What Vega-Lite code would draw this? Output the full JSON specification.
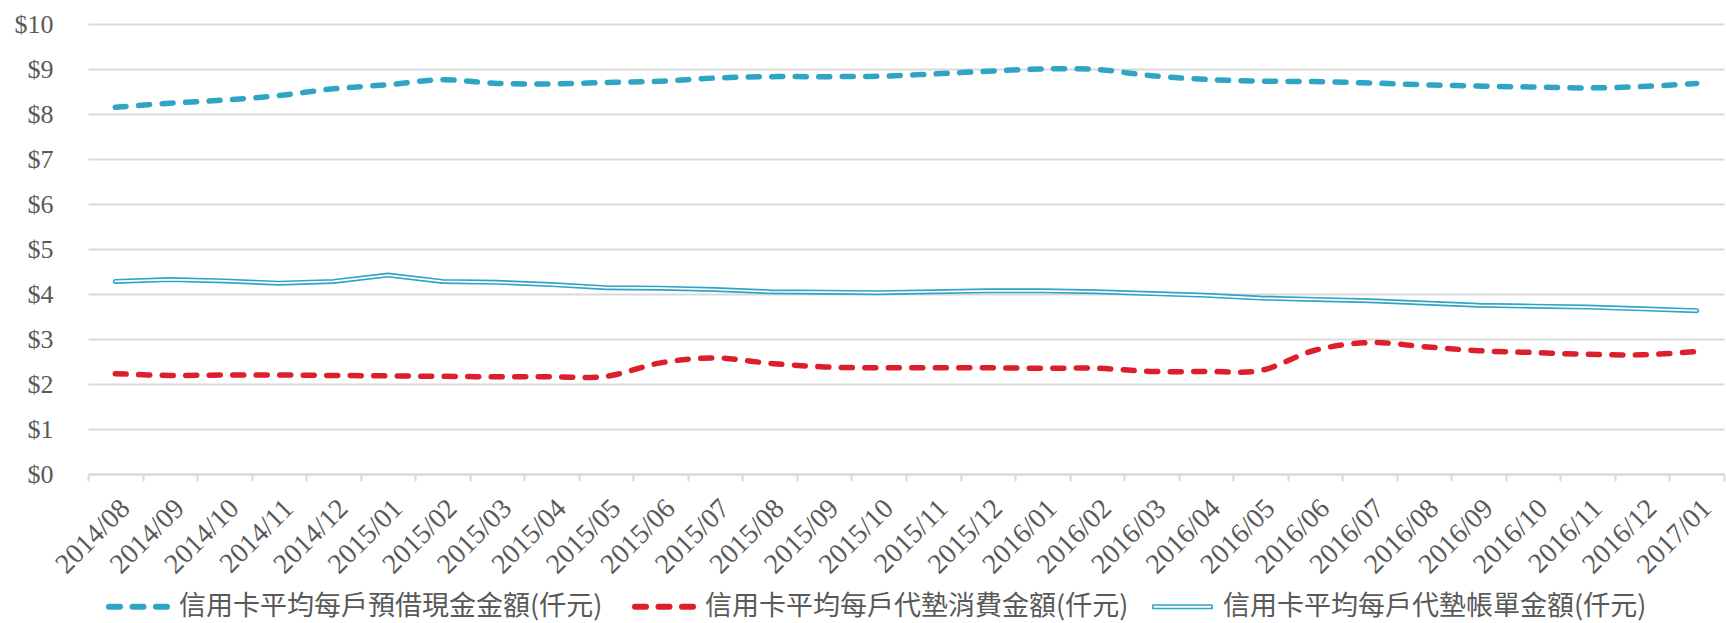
{
  "$schema": "https://vega.github.io/schema/vega-lite/v6.json",
  "width": 1636,
  "height": 450,
  "autosize": {"type": "none"},
  "padding": {"left": 88, "top": 24, "right": 2, "bottom": 149},
  "background": "white",
  "config": {"view": {"stroke": null}, "font": "Liberation Serif"},
  "data": {"values": [
    {"m": "2014/08", "信用卡平均每戶預借現金金額(仟元)": 8.15, "信用卡平均每戶代墊消費金額(仟元)": 2.23, "信用卡平均每戶代墊帳單金額(仟元)": 4.28},
    {"m": "2014/09", "信用卡平均每戶預借現金金額(仟元)": 8.24, "信用卡平均每戶代墊消費金額(仟元)": 2.19, "信用卡平均每戶代墊帳單金額(仟元)": 4.32},
    {"m": "2014/10", "信用卡平均每戶預借現金金額(仟元)": 8.31, "信用卡平均每戶代墊消費金額(仟元)": 2.2, "信用卡平均每戶代墊帳單金額(仟元)": 4.29},
    {"m": "2014/11", "信用卡平均每戶預借現金金額(仟元)": 8.41, "信用卡平均每戶代墊消費金額(仟元)": 2.2, "信用卡平均每戶代墊帳單金額(仟元)": 4.24},
    {"m": "2014/12", "信用卡平均每戶預借現金金額(仟元)": 8.56, "信用卡平均每戶代墊消費金額(仟元)": 2.19, "信用卡平均每戶代墊帳單金額(仟元)": 4.28},
    {"m": "2015/01", "信用卡平均每戶預借現金金額(仟元)": 8.65, "信用卡平均每戶代墊消費金額(仟元)": 2.18, "信用卡平均每戶代墊帳單金額(仟元)": 4.42},
    {"m": "2015/02", "信用卡平均每戶預借現金金額(仟元)": 8.76, "信用卡平均每戶代墊消費金額(仟元)": 2.17, "信用卡平均每戶代墊帳單金額(仟元)": 4.28},
    {"m": "2015/03", "信用卡平均每戶預借現金金額(仟元)": 8.68, "信用卡平均每戶代墊消費金額(仟元)": 2.16, "信用卡平均每戶代墊帳單金額(仟元)": 4.26},
    {"m": "2015/04", "信用卡平均每戶預借現金金額(仟元)": 8.67, "信用卡平均每戶代墊消費金額(仟元)": 2.16, "信用卡平均每戶代墊帳單金額(仟元)": 4.21},
    {"m": "2015/05", "信用卡平均每戶預借現金金額(仟元)": 8.7, "信用卡平均每戶代墊消費金額(仟元)": 2.17, "信用卡平均每戶代墊帳單金額(仟元)": 4.14},
    {"m": "2015/06", "信用卡平均每戶預借現金金額(仟元)": 8.73, "信用卡平均每戶代墊消費金額(仟元)": 2.47, "信用卡平均每戶代墊帳單金額(仟元)": 4.13},
    {"m": "2015/07", "信用卡平均每戶預借現金金額(仟元)": 8.8, "信用卡平均每戶代墊消費金額(仟元)": 2.58, "信用卡平均每戶代墊帳單金額(仟元)": 4.1},
    {"m": "2015/08", "信用卡平均每戶預借現金金額(仟元)": 8.83, "信用卡平均每戶代墊消費金額(仟元)": 2.46, "信用卡平均每戶代墊帳單金額(仟元)": 4.05},
    {"m": "2015/09", "信用卡平均每戶預借現金金額(仟元)": 8.83, "信用卡平均每戶代墊消費金額(仟元)": 2.38, "信用卡平均每戶代墊帳單金額(仟元)": 4.04},
    {"m": "2015/10", "信用卡平均每戶預借現金金額(仟元)": 8.84, "信用卡平均每戶代墊消費金額(仟元)": 2.36, "信用卡平均每戶代墊帳單金額(仟元)": 4.03},
    {"m": "2015/11", "信用卡平均每戶預借現金金額(仟元)": 8.89, "信用卡平均每戶代墊消費金額(仟元)": 2.36, "信用卡平均每戶代墊帳單金額(仟元)": 4.05},
    {"m": "2015/12", "信用卡平均每戶預借現金金額(仟元)": 8.95, "信用卡平均每戶代墊消費金額(仟元)": 2.36, "信用卡平均每戶代墊帳單金額(仟元)": 4.07},
    {"m": "2016/01", "信用卡平均每戶預借現金金額(仟元)": 9.0, "信用卡平均每戶代墊消費金額(仟元)": 2.35, "信用卡平均每戶代墊帳單金額(仟元)": 4.07},
    {"m": "2016/02", "信用卡平均每戶預借現金金額(仟元)": 8.99, "信用卡平均每戶代墊消費金額(仟元)": 2.35, "信用卡平均每戶代墊帳單金額(仟元)": 4.05},
    {"m": "2016/03", "信用卡平均每戶預借現金金額(仟元)": 8.85, "信用卡平均每戶代墊消費金額(仟元)": 2.28, "信用卡平均每戶代墊帳單金額(仟元)": 4.01},
    {"m": "2016/04", "信用卡平均每戶預借現金金額(仟元)": 8.77, "信用卡平均每戶代墊消費金額(仟元)": 2.28, "信用卡平均每戶代墊帳單金額(仟元)": 3.97},
    {"m": "2016/05", "信用卡平均每戶預借現金金額(仟元)": 8.73, "信用卡平均每戶代墊消費金額(仟元)": 2.3, "信用卡平均每戶代墊帳單金額(仟元)": 3.91},
    {"m": "2016/06", "信用卡平均每戶預借現金金額(仟元)": 8.72, "信用卡平均每戶代墊消費金額(仟元)": 2.75, "信用卡平均每戶代墊帳單金額(仟元)": 3.88},
    {"m": "2016/07", "信用卡平均每戶預借現金金額(仟元)": 8.69, "信用卡平均每戶代墊消費金額(仟元)": 2.92, "信用卡平均每戶代墊帳單金額(仟元)": 3.85},
    {"m": "2016/08", "信用卡平均每戶預借現金金額(仟元)": 8.65, "信用卡平均每戶代墊消費金額(仟元)": 2.83, "信用卡平均每戶代墊帳單金額(仟元)": 3.8},
    {"m": "2016/09", "信用卡平均每戶預借現金金額(仟元)": 8.62, "信用卡平均每戶代墊消費金額(仟元)": 2.74, "信用卡平均每戶代墊帳單金額(仟元)": 3.75},
    {"m": "2016/10", "信用卡平均每戶預借現金金額(仟元)": 8.6, "信用卡平均每戶代墊消費金額(仟元)": 2.7, "信用卡平均每戶代墊帳單金額(仟元)": 3.73},
    {"m": "2016/11", "信用卡平均每戶預借現金金額(仟元)": 8.58, "信用卡平均每戶代墊消費金額(仟元)": 2.66, "信用卡平均每戶代墊帳單金額(仟元)": 3.71},
    {"m": "2016/12", "信用卡平均每戶預借現金金額(仟元)": 8.61, "信用卡平均每戶代墊消費金額(仟元)": 2.65, "信用卡平均每戶代墊帳單金額(仟元)": 3.67},
    {"m": "2017/01", "信用卡平均每戶預借現金金額(仟元)": 8.68, "信用卡平均每戶代墊消費金額(仟元)": 2.72, "信用卡平均每戶代墊帳單金額(仟元)": 3.63}
  ]},
  "transform": [
    {"fold": ["信用卡平均每戶預借現金金額(仟元)", "信用卡平均每戶代墊消費金額(仟元)", "信用卡平均每戶代墊帳單金額(仟元)"], "as": ["series", "value"]}
  ],
  "encoding": {
    "x": {
      "field": "m", "type": "ordinal", "bandPosition": 0.5,
      "scale": {"type": "band", "paddingInner": 0, "paddingOuter": 0},
      "axis": {
        "title": null, "labelAngle": -45, "labelFont": "Liberation Serif", "labelFontSize": 28,
        "labelColor": "#595959", "domainColor": "#d9d9d9", "domainWidth": 2,
        "tickColor": "#d9d9d9", "tickWidth": 2, "tickSize": 7, "tickBand": "extent",
        "labelPadding": 13, "grid": false, "labelOverlap": false, "labelBound": false
      }
    },
    "y": {
      "field": "value", "type": "quantitative",
      "scale": {"domain": [0, 10], "nice": false},
      "axis": {
        "title": null, "values": [0, 1, 2, 3, 4, 5, 6, 7, 8, 9, 10],
        "labelExpr": "'$' + datum.value", "labelFont": "Liberation Serif", "labelFontSize": 26,
        "labelColor": "#595959", "grid": true, "gridColor": "#d9d9d9", "gridWidth": 2,
        "domain": false, "ticks": false, "labelPadding": 35
      }
    }
  },
  "layer": [
    {
      "transform": [{"filter": {"field": "series", "oneOf": ["信用卡平均每戶預借現金金額(仟元)", "信用卡平均每戶代墊消費金額(仟元)"]}}],
      "mark": {"type": "line", "interpolate": "catmull-rom", "strokeWidth": 5.5, "strokeDash": [11, 12.5], "strokeCap": "round"},
      "encoding": {
        "color": {
          "field": "series", "type": "nominal",
          "scale": {
            "domain": ["信用卡平均每戶預借現金金額(仟元)", "信用卡平均每戶代墊消費金額(仟元)", "信用卡平均每戶代墊帳單金額(仟元)"],
            "range": ["#2EA5C4", "#DC1F2A", "#2EA5C4"]
          },
          "legend": {
            "title": null, "orient": "none", "legendX": 37, "legendY": 569, "direction": "horizontal",
            "symbolType": "stroke", "symbolSize": 3481, "symbolStrokeWidth": 6,
            "labelFont": "Noto Sans CJK TC", "labelFontSize": 27, "labelColor": "#595959",
            "labelOffset": 27, "columnPadding": 20, "padding": 0, "labelLimit": 0,
            "encode": {"symbols": {"update": {
              "shape": {"signal": "datum.value === '信用卡平均每戶代墊帳單金額(仟元)' ? 'M-1,-0.06H1V0.06H-1Z' : 'stroke'"},
              "strokeDash": {"signal": "datum.value === '信用卡平均每戶代墊帳單金額(仟元)' ? [1, 0] : [11, 12.5]"},
              "strokeWidth": {"signal": "datum.value === '信用卡平均每戶代墊帳單金額(仟元)' ? 1.6 : 6"},
              "fill": {"signal": "datum.value === '信用卡平均每戶代墊帳單金額(仟元)' ? 'white' : 'transparent'"},
              "strokeCap": {"value": "round"},
              "opacity": {"value": 1}
            }}}
          }
        }
      }
    },
    {
      "transform": [{"filter": {"field": "series", "equal": "信用卡平均每戶代墊帳單金額(仟元)"}}],
      "mark": {"type": "line", "color": "#2EA5C4", "strokeWidth": 5, "strokeCap": "round", "strokeJoin": "round"}
    },
    {
      "transform": [{"filter": {"field": "series", "equal": "信用卡平均每戶代墊帳單金額(仟元)"}}],
      "mark": {"type": "line", "color": "#ffffff", "strokeWidth": 1.7, "strokeCap": "round", "strokeJoin": "round"}
    }
  ]
}
